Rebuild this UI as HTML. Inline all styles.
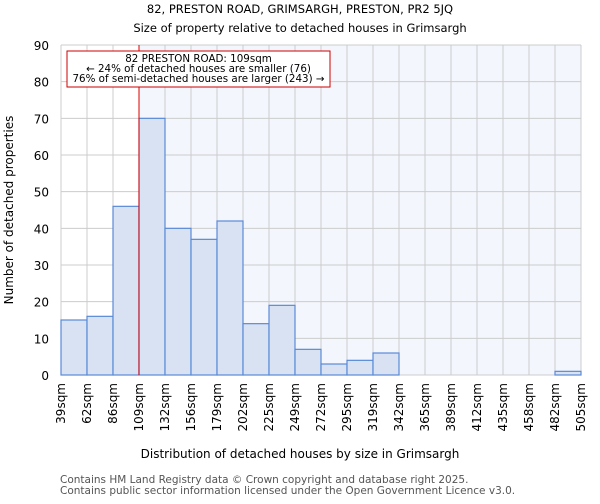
<!DOCTYPE html>
<html><head><meta charset="utf-8"><style>
body{margin:0;background:#fff;font-family:"DejaVu Sans","Liberation Sans",sans-serif;}
</style></head><body>
<svg id="c" width="600" height="500" xmlns="http://www.w3.org/2000/svg" font-family="DejaVu Sans, Liberation Sans, sans-serif">
<text x="300" y="13" text-anchor="middle" font-size="11.5">82, PRESTON ROAD, GRIMSARGH, PRESTON, PR2 5JQ</text>
<text x="300" y="32" text-anchor="middle" font-size="11.5">Size of property relative to detached houses in Grimsargh</text>
<g id="plot"></g>
<text x="300" y="458" text-anchor="middle" font-size="12">Distribution of detached houses by size in Grimsargh</text>
<text transform="translate(13,210) rotate(-90)" text-anchor="middle" font-size="12">Number of detached properties</text>
<text x="60" y="483" font-size="10.5" fill="#555">Contains HM Land Registry data © Crown copyright and database right 2025.</text>
<text x="60" y="494" font-size="10.5" fill="#555">Contains public sector information licensed under the Open Government Licence v3.0.</text>
</svg>
<script>
const tickLabels=["39sqm","62sqm","86sqm","109sqm","132sqm","156sqm","179sqm","202sqm","225sqm","249sqm","272sqm","295sqm","319sqm","342sqm","365sqm","389sqm","412sqm","435sqm","458sqm","482sqm","505sqm"];
const counts=[15,16,46,70,40,37,42,14,19,7,3,4,6,0,0,0,0,0,0,1];
const yTicks=[0,10,20,30,40,50,60,70,80,90];
const markerIndex=3;
const annotation=["82 PRESTON ROAD: 109sqm","← 24% of detached houses are smaller (76)","76% of semi-detached houses are larger (243) →"];
const X0=61,X1=581,Y0=375,Y1=45,YMAX=90;
const NS="http://www.w3.org/2000/svg";
const g=document.getElementById('plot');
const bw=(X1-X0)/counts.length;
const xs=i=>X0+i*bw;
const ys=v=>Y0-(v/YMAX)*(Y0-Y1);
function mk(t,a,p){const e=document.createElementNS(NS,t);for(const k in a)e.setAttribute(k,a[k]);(p||g).appendChild(e);return e;}
let bg=mk('rect',{x:xs(markerIndex),y:Y1,width:X1-xs(markerIndex),height:Y0-Y1,fill:'#f4f6fd'});


for(let i=0;i<=counts.length;i++){let l=mk('line',{x1:xs(i),x2:xs(i),y1:Y1,y2:Y0,stroke:'#cccccc'});

}
yTicks.forEach(v=>{let l=mk('line',{x1:X0,x2:X1,y1:ys(v),y2:ys(v),stroke:'#cccccc'});


let t=mk('text',{x:X0-12,y:ys(v)+5,'text-anchor':'end','font-size':12});t.textContent=v;

});
counts.forEach((v,i)=>{if(v<=0)return;let r=mk('rect',{x:xs(i),y:ys(v),width:bw,height:Y0-ys(v),fill:'#d8e2f3',stroke:'#5a8ad6','stroke-width':1.2});

});
tickLabels.forEach((s,i)=>{let t=mk('text',{transform:`translate(${xs(i)+4},${Y0+8}) rotate(-90)`,'text-anchor':'end','font-size':12});t.textContent=s;

});
let ml=mk('line',{x1:xs(markerIndex),x2:xs(markerIndex),y1:Y1,y2:Y0,stroke:'#dd0000','stroke-width':1});


let box=mk('rect',{x:67,y:51,width:263,height:36,fill:'#fff',stroke:'#cc0000','stroke-width':1});


annotation.forEach((s,i)=>{let t=mk('text',{x:198.5,y:62+i*10,'text-anchor':'middle','font-size':10.3});t.textContent=s;

});
</script>
</body></html>
